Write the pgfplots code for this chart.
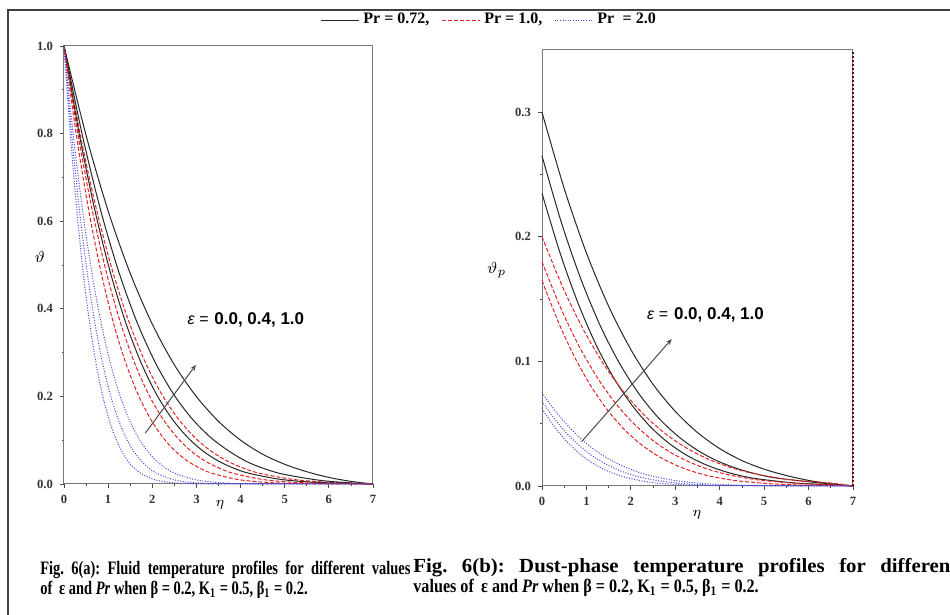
\documentclass[border=0pt]{standalone}
\usepackage{pgfplots}
\pgfplotsset{compat=1.18}
\usepackage{fontspec}
\setmainfont{Liberation Serif}
\newfontfamily\capfont[FakeStretch=0.76]{Liberation Serif}
\newfontfamily\capfontb[FakeStretch=0.85]{Liberation Serif}
\newfontfamily\capfontw[FakeStretch=1.04]{Liberation Serif}
\newfontfamily\sansf{Liberation Sans}
\usetikzlibrary{arrows.meta}

\definecolor{curvek}{RGB}{40,40,40}
\definecolor{curver}{RGB}{225,35,35}
\definecolor{curveb}{RGB}{70,70,225}
\definecolor{spine}{RGB}{120,120,120}

\pgfplotsset{
  profile/.style={
    scale only axis, xmin=0, xmax=7, xtick={0,...,7},
    minor x tick num=1, minor y tick num=1,
    tick align=outside, tick pos=left,
    major tick length=2pt, minor tick length=1.2pt,
    every tick/.style={black!70, line width=0.4pt},
    axis line style={spine, line width=0.5pt},
    tick label style={font=\fontsize{6.3}{7}\selectfont\bfseries, black!80},
    /pgf/number format/assume math mode=true,
    yticklabel style={/pgf/number format/.cd, fixed, fixed zerofill, precision=1},
    xlabel style={font=\fontsize{7}{8}\selectfont},
    ylabel style={font=\fontsize{8}{9}\selectfont, rotate=-90, anchor=center},
    clip=false,
  },
  kline/.style={curvek, line width=0.5pt, smooth},
  rline/.style={curver, line width=0.5pt, dash pattern=on 2pt off 1pt, smooth},
  bline/.style={curveb, line width=0.5pt, dash pattern=on 0.5pt off 0.8pt, smooth},
}

\begin{document}
\frenchspacing
\begin{tikzpicture}
\useasboundingbox (0pt,0pt) rectangle (475pt,307.5pt);
\fill[white] (0pt,0pt) rectangle (475pt,307.5pt);
\clip (0pt,0pt) rectangle (475pt,307.5pt);
\draw[black!75, line width=1pt] (4pt,-10pt) -- (4pt,302.5pt) -- (490pt,302.5pt);

% ---- Fig. 6(a): fluid temperature
\begin{axis}[profile,
  at={(32pt,65.5pt)}, anchor=south west,
  width=154.5pt, height=219pt,
  ymin=0, ymax=1, ytick={0,0.2,...,1.0},
  xlabel={$\eta$}, ylabel={$\vartheta$},
  xlabel style={at={(rel axis cs:0.505,-0.048)}, anchor=center},
  ylabel style={at={(rel axis cs:-0.078,0.518)}},
  legend style={at={(1.379,1.059)}, anchor=center, draw=none, fill=none,
    legend columns=3, font=\fontsize{8}{9}\selectfont\bfseries,
    /tikz/every even column/.append style={column sep=4pt}, inner sep=0pt},
  legend image code/.code={\draw[#1] (0pt,0pt) -- (19pt,0pt);},
]
% Pr = 0.72
\addplot[kline] coordinates {(0,1) (0.5,0.796) (1,0.6235) (1.5,0.481) (2,0.365) (2.5,0.272) (3,0.1995) (3.5,0.143) (4,0.100) (4.5,0.068) (5,0.045) (5.5,0.028) (6,0.015) (6.5,0.006) (7,0)};
\addlegendentry{Pr = 0.72,}
% Pr = 1.0
\addplot[rline] coordinates {(0,1) (0.37,0.7965) (0.74,0.6250) (1.11,0.4831) (1.48,0.3679) (1.85,0.2760) (2.22,0.2039) (2.59,0.1485) (2.96,0.1065) (3.33,0.0752) (3.70,0.0523) (4.07,0.0359) (4.44,0.0242) (5.18,0.0106) (5.92,0.0043) (6.66,0.0017) (7,0)};
\addlegendentry{Pr = 1.0,}
% Pr = 2.0
\addplot[bline] coordinates {(0,1) (0.21,0.7965) (0.42,0.6250) (0.63,0.4831) (0.84,0.3679) (1.05,0.2760) (1.26,0.2039) (1.47,0.1485) (1.68,0.1065) (1.89,0.0752) (2.10,0.0523) (2.31,0.0359) (2.52,0.0242) (2.94,0.0106) (3.36,0.0043) (3.78,0.0017) (4.20,0.0006) (5.04,0.0001) (7,0)};
\addlegendentry{Pr \;= 2.0}

\addplot[kline, forget plot] coordinates {(0,1) (0.415,0.7965) (0.83,0.6250) (1.245,0.4831) (1.66,0.3679) (2.075,0.2760) (2.49,0.2039) (2.905,0.1485) (3.32,0.1065) (3.735,0.0752) (4.15,0.0506) (4.565,0.0340) (4.98,0.0221) (5.81,0.0082) (6.64,0.0015) (7,0)};
\addplot[kline, forget plot] coordinates {(0,1) (0.35,0.7965) (0.70,0.6250) (1.05,0.4831) (1.40,0.3679) (1.75,0.2760) (2.10,0.2039) (2.45,0.1485) (2.80,0.1065) (3.15,0.0752) (3.50,0.0523) (3.85,0.0359) (4.20,0.0242) (4.90,0.0106) (5.60,0.0043) (6.30,0.0017) (7,0)};
\addplot[rline, forget plot] coordinates {(0,1) (0.32,0.7965) (0.64,0.6250) (0.96,0.4831) (1.28,0.3679) (1.60,0.2760) (1.92,0.2039) (2.24,0.1485) (2.56,0.1065) (2.88,0.0752) (3.20,0.0523) (3.52,0.0359) (3.84,0.0242) (4.48,0.0106) (5.12,0.0043) (5.76,0.0017) (6.40,0.0006) (7,0)};
\addplot[rline, forget plot] coordinates {(0,1) (0.28,0.7965) (0.56,0.6250) (0.84,0.4831) (1.12,0.3679) (1.40,0.2760) (1.68,0.2039) (1.96,0.1485) (2.24,0.1065) (2.52,0.0752) (2.80,0.0523) (3.08,0.0359) (3.36,0.0242) (3.92,0.0106) (4.48,0.0043) (5.04,0.0017) (5.60,0.0006) (6.72,0.0001) (7,0)};
\addplot[bline, forget plot] coordinates {(0,1) (0.175,0.7965) (0.35,0.6250) (0.525,0.4831) (0.70,0.3679) (0.875,0.2760) (1.05,0.2039) (1.225,0.1485) (1.40,0.1065) (1.575,0.0752) (1.75,0.0523) (1.925,0.0359) (2.10,0.0242) (2.45,0.0106) (2.80,0.0043) (3.15,0.0017) (3.50,0.0006) (4.20,0.0001) (7,0)};
\addplot[bline, forget plot] coordinates {(0,1) (0.145,0.7965) (0.29,0.6250) (0.435,0.4831) (0.58,0.3679) (0.725,0.2760) (0.87,0.2039) (1.015,0.1485) (1.16,0.1065) (1.305,0.0752) (1.45,0.0523) (1.595,0.0359) (1.74,0.0242) (2.03,0.0106) (2.32,0.0043) (2.61,0.0017) (2.90,0.0006) (3.48,0.0001) (7,0)};

\draw[black!70, line width=0.5pt, -{Stealth[length=3pt,width=2.4pt]}] (axis cs:1.84,0.116) -- (axis cs:2.99,0.272);
\node[anchor=west, inner sep=0pt] at (axis cs:2.79,0.374)
  {{\sansf\itshape\fontsize{8}{9}\selectfont ε =}\hspace{3pt}{\sansf\bfseries\fontsize{8.5}{9}\selectfont 0.0, 0.4, 1.0}};
\end{axis}

% ---- Fig. 6(b): dust-phase temperature
\begin{axis}[profile,
  at={(271pt,64.5pt)}, anchor=south west,
  width=155.5pt, height=218pt,
  ymin=0, ymax=0.35, ytick={0,0.1,0.2,0.3},
  xlabel={$\eta$}, ylabel={$\vartheta_p$},
  xlabel style={at={(rel axis cs:0.498,-0.067)}, anchor=center},
  ylabel style={at={(rel axis cs:-0.145,0.496)}},
]
% Pr = 0.72
\addplot[kline] coordinates {(0,0.300) (0.5,0.2388) (1,0.1871) (1.5,0.1443) (2,0.1095) (2.5,0.0816) (3,0.0599) (3.5,0.0429) (4,0.0300) (4.5,0.0204) (5,0.0135) (5.5,0.0084) (6,0.0045) (6.5,0.0018) (7,0)};
\addplot[kline] coordinates {(0,0.2650) (0.44,0.2111) (0.88,0.1656) (1.32,0.1280) (1.76,0.0975) (2.20,0.0731) (2.64,0.0540) (3.08,0.0394) (3.52,0.0282) (3.96,0.0199) (4.40,0.0139) (4.84,0.0095) (5.28,0.0064) (6.16,0.0028) (7,0)};
\addplot[kline] coordinates {(0,0.2350) (0.405,0.1872) (0.81,0.1469) (1.215,0.1135) (1.62,0.0865) (2.025,0.0649) (2.43,0.0479) (2.835,0.0349) (3.24,0.0250) (3.645,0.0177) (4.05,0.0123) (4.455,0.0084) (4.86,0.0057) (5.67,0.0025) (6.48,0.0010) (7,0)};
% Pr = 1.0
\addplot[rline] coordinates {(0,0.2000) (0.47,0.1593) (0.94,0.1250) (1.41,0.0966) (1.88,0.0736) (2.35,0.0552) (2.82,0.0408) (3.29,0.0297) (3.76,0.0213) (4.23,0.0150) (4.70,0.0105) (5.17,0.0072) (5.64,0.0048) (6.58,0.0021) (7,0)};
\addplot[rline] coordinates {(0,0.1800) (0.415,0.1434) (0.83,0.1125) (1.245,0.0870) (1.66,0.0662) (2.075,0.0497) (2.49,0.0367) (2.905,0.0267) (3.32,0.0192) (3.735,0.0135) (4.15,0.0094) (4.565,0.0065) (4.98,0.0044) (5.81,0.0019) (6.64,0.0008) (7,0)};
\addplot[rline] coordinates {(0,0.1650) (0.37,0.1314) (0.74,0.1031) (1.11,0.0797) (1.48,0.0607) (1.85,0.0455) (2.22,0.0336) (2.59,0.0245) (2.96,0.0176) (3.33,0.0124) (3.70,0.0086) (4.07,0.0059) (4.44,0.0040) (5.18,0.0017) (5.92,0.0007) (6.66,0.0003) (7,0)};
% Pr = 2.0
\addplot[bline] coordinates {(0,0.0750) (0.31,0.0597) (0.62,0.0469) (0.93,0.0362) (1.24,0.0276) (1.55,0.0207) (1.86,0.0153) (2.17,0.0111) (2.48,0.0080) (2.79,0.0056) (3.10,0.0039) (3.41,0.0027) (3.72,0.0018) (4.34,0.0008) (4.96,0.0003) (7,0)};
\addplot[bline] coordinates {(0,0.0680) (0.275,0.0542) (0.55,0.0425) (0.825,0.0329) (1.10,0.0250) (1.375,0.0188) (1.65,0.0139) (1.925,0.0101) (2.20,0.0072) (2.475,0.0051) (2.75,0.0036) (3.025,0.0024) (3.30,0.0016) (3.85,0.0007) (4.40,0.0003) (7,0)};
\addplot[bline] coordinates {(0,0.0620) (0.24,0.0494) (0.48,0.0388) (0.72,0.0300) (0.96,0.0228) (1.20,0.0171) (1.44,0.0126) (1.68,0.0092) (1.92,0.0066) (2.16,0.0047) (2.40,0.0032) (2.64,0.0022) (2.88,0.0015) (3.36,0.0007) (3.84,0.0003) (7,0)};

\draw[black!60!red, line width=0.6pt, dash pattern=on 1.2pt off 0.8pt] (axis cs:7,0) -- (axis cs:7,0.35);
\draw[black!70, line width=0.5pt, -{Stealth[length=3pt,width=2.4pt]}] (axis cs:0.89,0.0355) -- (axis cs:2.92,0.118);
\node[anchor=west, inner sep=0pt] at (axis cs:2.36,0.137)
  {{\sansf\itshape\fontsize{8}{9}\selectfont ε =}\hspace{3pt}{\sansf\bfseries\fontsize{8.5}{9}\selectfont 0.0, 0.4, 1.0}};
\end{axis}

% ---- captions
\node[anchor=west, inner sep=0pt] at (20pt,22.5pt)
  {\capfont\bfseries\fontsize{9.5}{11}\selectfont\makebox[185pt][s]{Fig. 6(a): Fluid temperature profiles for different values}};
\node[anchor=west, inner sep=0pt] at (20pt,12.5pt)
  {\capfont\bfseries\fontsize{9.5}{11}\selectfont of \,ε and \textit{Pr} when β = 0.2, K\textsubscript{1} = 0.5, β\textsubscript{1} = 0.2.};
\node[anchor=west, inner sep=0pt] at (206.5pt,23.5pt)
  {\capfontw\bfseries\fontsize{10}{11}\selectfont\makebox[272pt][s]{Fig. 6(b): Dust-phase temperature profiles for different}};
\node[anchor=west, inner sep=0pt] at (206.5pt,13.5pt)
  {\capfontb\bfseries\fontsize{9.5}{11}\selectfont values of \,ε and \textit{Pr} when β = 0.2, K\textsubscript{1} = 0.5, β\textsubscript{1} = 0.2.};
\end{tikzpicture}
\end{document}
